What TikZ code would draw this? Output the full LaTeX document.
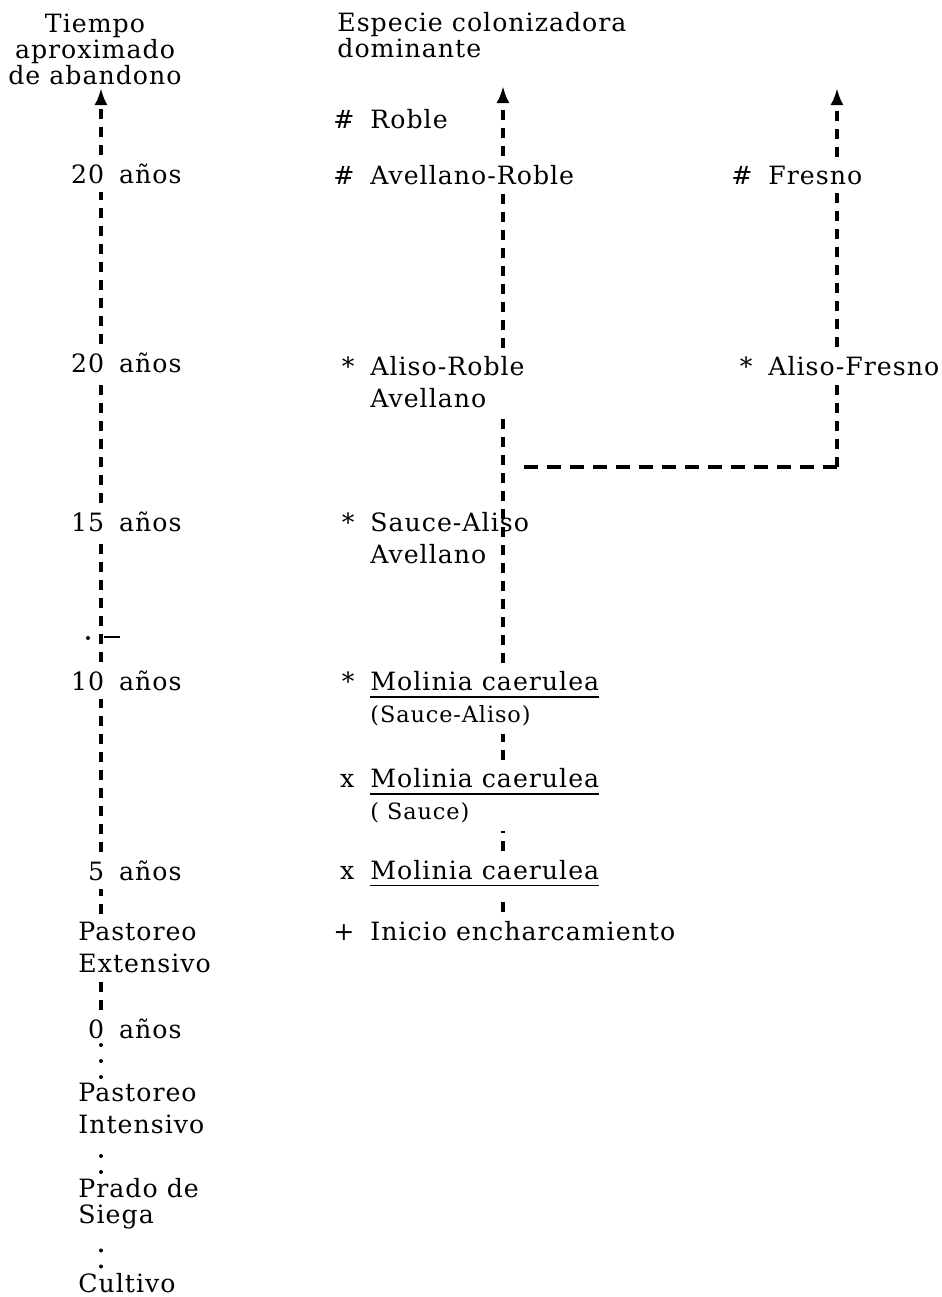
\documentclass[tikz,border=0pt]{standalone}
\usepackage{fontspec}
\setmainfont{DejaVu Serif}[LetterSpace=4]
\usetikzlibrary{arrows.meta,positioning}
\newcommand{\spsym}[1]{\llap{#1\hspace{8pt}}}
\newcommand{\ulin}[1]{\leavevmode\vtop{\hbox{#1}\kern2.6pt\hrule height 0.8pt}}

\begin{document}
\begin{tikzpicture}[x=0.5pt,y=-0.5pt,>={Latex[length=8.5pt,width=6.5pt]},every node/.append style={inner sep=0pt,font=\fontsize{12.6pt}{16pt}\selectfont},colhead/.style={font=\fontsize{12.6pt}{12.8pt}\selectfont},lbl/.style={anchor=base east},stage/.style={anchor=base west},stagetwo/.style={anchor=north west,align=left},trail/.style={line width=1.7pt,dash pattern=on 5pt off 4pt,shorten <=4pt,shorten >=4pt},branch/.style={line width=1.7pt,dash pattern=on 7pt off 4.5pt},dotline/.style={line width=2pt,line cap=round,dash pattern=on 0pt off 8pt,shorten <=3pt,shorten >=3pt}]
    \useasboundingbox (0,0) rectangle (942,1297);
    \coordinate (lx) at (101,0);
    \coordinate (mx) at (503,0);
    \coordinate (rx) at (837,0);
    \coordinate (ltip) at (101,88);
    \coordinate (mtip) at (503,86);
    \coordinate (rtip) at (837,88);
    \coordinate (fork) at (524,467);
    \coordinate (bend) at (846,467);
    \coordinate (kink) at (101,637);
    % time column
    \node [colhead, anchor=north, align=center] (thead) at (95,14) {Tiempo\\aproximado\\de abandono};
    \node [lbl] (y20a) at (182,183) {20\hspace{0.6em}años};
    \node [lbl] (y20b) at (182,372) {20\hspace{0.6em}años};
    \node [lbl] (y15) at (182,531) {15\hspace{0.6em}años};
    \node [lbl] (y10) at (182,690) {10\hspace{0.6em}años};
    \node [lbl] (y5) at (182,880) {5\hspace{0.6em}años};
    \node [stagetwo] (pext) at (78,922) {Pastoreo\\Extensivo};
    \node [lbl] (y0) at (182,1038) {0\hspace{0.6em}años};
    \node [stagetwo] (pint) at (78,1083) {Pastoreo\\Intensivo};
    \node [stagetwo, font=\fontsize{12.6pt}{13pt}\selectfont] (prado) at (78,1178) {Prado de\\Siega};
    \node [stage] (cult) at (78,1292) {Cultivo};
    % species column
    \node [colhead, anchor=north west, align=left] (mhead) at (337,12) {Especie colonizadora\\dominante};
    \node [stage] (rob) at (370,128) {\spsym{\#}Roble};
    \node [stage] (avro) at (370,184) {\spsym{\#}Avellano-Roble};
    \node [stagetwo] (alro) at (370,356) {\spsym{*}Aliso-Roble\\Avellano};
    \node [stagetwo] (saal) at (370,512) {\spsym{*}Sauce-Aliso\\Avellano};
    \node [stagetwo] (mol1) at (370,671) {\spsym{*}\ulin{Molinia caerulea}\\\fontsize{11.2pt}{16pt}\selectfont(Sauce-Aliso)};
    \node [stagetwo] (mol2) at (370,768) {\spsym{x}\ulin{Molinia caerulea}\\\fontsize{11.2pt}{16pt}\selectfont( Sauce)};
    \node [stage] (mol3) at (370,879) {\spsym{x}\ulin{Molinia caerulea}};
    \node [stage] (ini) at (370,940) {\spsym{+}Inicio encharcamiento};
    \node [stage] (fres) at (768,184) {\spsym{\#}Fresno};
    \node [stage] (alfr) at (768,375) {\spsym{*}Aliso-Fresno};
    % time axis
    \draw[trail, ->, shorten >=0pt] (y20a.north -| lx) -- (ltip);
    \draw[trail] (y20b.north -| lx) -- (y20a.south -| lx);
    \draw[trail] (y15.north -| lx) -- (y20b.south -| lx);
    \draw[trail] (y10.north -| lx) -- (y15.south -| lx);
    \draw[line width=1pt] (kink) ++(3,0) -- ++(16,0);
    \fill (kink) ++(-13,1) circle (1pt);
    \draw[trail] (y5.north -| lx) -- (y10.south -| lx);
    \draw[trail] (pext.north -| lx) -- (y5.south -| lx);
    \draw[trail] (y0.north -| lx) -- (pext.south -| lx);
    \draw[dotline] (pint.north -| lx) -- (y0.south -| lx);
    \draw[dotline] (prado.north -| lx) -- (pint.south -| lx);
    \draw[dotline] (cult.north -| lx) -- (prado.south -| lx);
    % succession
    \draw[trail, ->, shorten >=0pt] (avro.north -| mx) -- (mtip);
    \draw[trail] (alro.north -| mx) -- (avro.south -| mx);
    \draw[trail] (mol1.north -| mx) -- (alro.south -| mx);
    \draw[trail] (mol2.north -| mx) -- (mol1.south -| mx);
    \draw[trail] (mol3.north -| mx) -- (mol2.south -| mx);
    \draw[trail] (ini.north -| mx) -- (mol3.south -| mx);
    \draw[branch] (fork) -- (bend);
    \draw[trail, shorten <=0pt] (rx |- fork) -- (alfr.south -| rx);
    \draw[trail] (alfr.north -| rx) -- (fres.south -| rx);
    \draw[trail, ->, shorten >=0pt] (fres.north -| rx) -- (rtip);
\end{tikzpicture}
\end{document}
